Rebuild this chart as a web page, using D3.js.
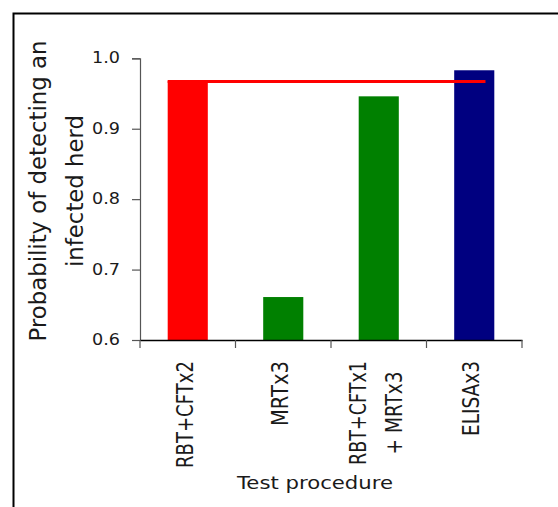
<!DOCTYPE html>
<html>
<head>
<meta charset="utf-8">
<script src="https://cdn.jsdelivr.net/npm/d3@7"></script>
<style>
  html, body { margin: 0; padding: 0; background: #fff; }
  svg { display: block; }
  text { font-family: "DejaVu Sans", sans-serif; fill: #1a1a1a; }
</style>
</head>
<body>
<svg id="chart" width="558" height="507"></svg>
<script>
// ---- data ----
const categories = ["RBT+CFTx2", "MRTx3", "RBT+CFTx1\n+ MRTx3", "ELISAx3"];
const values = [0.968, 0.661, 0.946, 0.983];
const barColors = ["#ff0000", "#008000", "#008000", "#000080"];
const referenceValue = 0.967;
const yTicks = [0.6, 0.7, 0.8, 0.9, 1.0];
const yTitleLines = ["Probability of detecting an", "infected herd"];
const xTitle = "Test procedure";

// ---- layout / style (not data) ----
const W = 558, H = 507;
const plot = { left: 140, right: 522, top: 58.3, bottom: 340 };
const lineLengths = { "RBT+CFTx2": 107, "MRTx3": 65, "RBT+CFTx1": 104, "+ MRTx3": 83, "ELISAx3": 75 };

const svg = d3.select("#chart");
svg.append("rect").attr("width", W).attr("height", H).attr("fill", "#fff");
// outer frame (extends beyond the view)
svg.append("rect")
  .attr("x", 13.5).attr("y", 13.5).attr("width", 700).attr("height", 700)
  .attr("fill", "none").attr("stroke", "#000").attr("stroke-width", 2);

const x = d3.scaleBand().domain(categories)
  .range([plot.left, plot.right]).paddingInner(0.58).paddingOuter(0.29);
const y = d3.scaleLinear().domain([0.6, 1.0]).range([plot.bottom, plot.top]);

// bars
svg.append("g").selectAll("rect").data(categories).join("rect")
  .attr("x", d => x(d))
  .attr("width", x.bandwidth())
  .attr("y", (d, i) => y(values[i]))
  .attr("height", (d, i) => y(0.6) - y(values[i]))
  .attr("fill", (d, i) => barColors[i]);

// reference line
svg.append("line")
  .attr("x1", x(categories[0]))
  .attr("x2", x(categories[3]) + x.bandwidth() * 0.78)
  .attr("y1", y(referenceValue)).attr("y2", y(referenceValue))
  .attr("stroke", "#ff0000").attr("stroke-width", 3);

// y axis
const yAxis = svg.append("g")
  .attr("transform", `translate(${plot.left},0)`)
  .call(d3.axisLeft(y).tickValues(yTicks).tickFormat(d3.format(".1f")).tickSize(8).tickPadding(12));
yAxis.select(".domain").attr("stroke", "#555").attr("stroke-width", 1.2);
yAxis.selectAll(".tick line").attr("stroke", "#555").attr("stroke-width", 1.2);
yAxis.selectAll(".tick text")
  .attr("font-family", "DejaVu Sans").attr("font-size", 16.5).attr("fill", "#1a1a1a")
  .attr("dy", 4.5).attr("x", -20)
  .attr("textLength", 28).attr("lengthAdjust", "spacingAndGlyphs");

// x axis
const xAxis = svg.append("g")
  .attr("transform", `translate(0,${plot.bottom})`)
  .call(d3.axisBottom(x).tickSize(0).tickFormat(""));
xAxis.select(".domain").attr("stroke", "#000").attr("stroke-width", 1.6);
const bounds = d3.range(categories.length + 1).map(i => x.range()[0] + i * x.step());
svg.append("g").selectAll("line").data(bounds).join("line")
  .attr("x1", d => d).attr("x2", d => d)
  .attr("y1", plot.bottom).attr("y2", plot.bottom + 8)
  .attr("stroke", "#555").attr("stroke-width", 1.2);

// x category labels (rotated)
const labelTop = 361, lineGap = 35.7;
categories.forEach(c => {
  const lines = c.split("\n");
  const maxLen = d3.max(lines, l => lineLengths[l]);
  const cx = x(c) + x.bandwidth() / 2;
  lines.forEach((l, i) => {
    const bx = cx + 5 + (i - (lines.length - 1) / 2) * lineGap;
    const by = labelTop + maxLen / 2;
    svg.append("text")
      .attr("transform", `translate(${bx},${by}) rotate(-90)`)
      .attr("text-anchor", "middle")
      .attr("font-size", 22.6)
      .attr("textLength", lineLengths[l]).attr("lengthAdjust", "spacingAndGlyphs")
      .text(l);
  });
});

// x title
svg.append("text")
  .attr("x", 315).attr("y", 489)
  .attr("text-anchor", "middle")
  .attr("font-size", 17.4)
  .attr("textLength", 156).attr("lengthAdjust", "spacingAndGlyphs")
  .text(xTitle);

// y title (two lines, rotated)
const yTitleX = [46, 83], yTitleY = 191;
yTitleLines.forEach((l, i) => {
  svg.append("text")
    .attr("transform", `translate(${yTitleX[i]},${yTitleY}) rotate(-90)`)
    .attr("text-anchor", "middle")
    .attr("font-size", 22.8)
    .text(l);
});
</script>
</body>
</html>
